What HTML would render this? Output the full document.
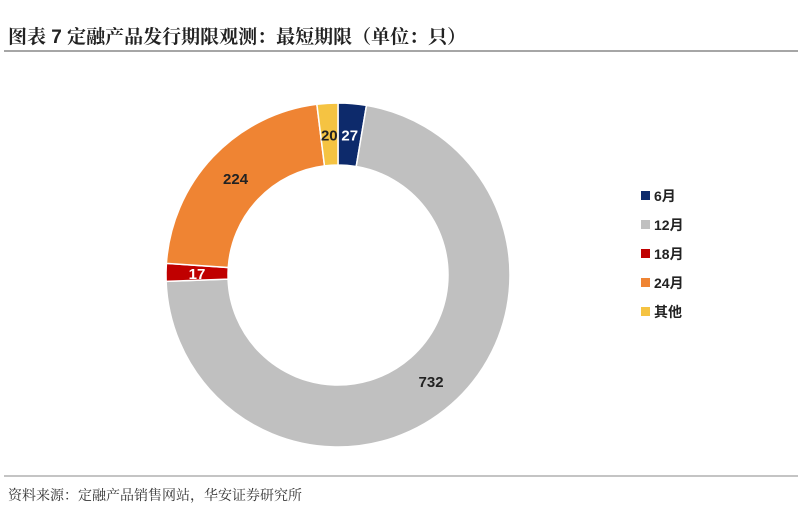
<!DOCTYPE html>
<html><head><meta charset="utf-8">
<style>
body{margin:0;background:#fff;width:802px;height:526px;overflow:hidden;font-family:"Liberation Sans","Noto Sans CJK SC",sans-serif;}
</style></head>
<body>
<svg width="802" height="526" viewBox="0 0 802 526">
<text x="8" y="43" font-size="19" font-weight="bold" fill="#222" font-family="'Liberation Sans','Noto Serif CJK SC',serif">图表 7  定融产品发行期限观测：最短期限（单位：只）</text>
<line x1="4" y1="51" x2="798" y2="51" stroke="#888" stroke-width="1.5"/>
<g id="donut"></g>
<g id="legend"></g>
<line x1="4" y1="476" x2="798" y2="476" stroke="#888" stroke-width="1"/>
<text x="8" y="500" font-size="14" fill="#333" font-family="'Liberation Serif','Noto Serif CJK SC',serif">资料来源：定融产品销售网站，华安证券研究所</text>
</svg>
<script>
const categories=["6月","12月","18月","24月","其他"];
const values=[27,732,17,224,20];
const colors=["#0d2a6b","#c0c0c0","#c00000","#ef8433","#f5c342"];
const labelColors=["#fff","#222","#fff","#222","#222"];
const ns="http://www.w3.org/2000/svg";
const cx=338,cy=275,R=172,r=110;
const total=values.reduce((a,b)=>a+b,0);
function pt(a,rad){return [cx+rad*Math.sin(a),cy-rad*Math.cos(a)];}
const donut=document.getElementById('donut');
let acc=0;
values.forEach((v,i)=>{
  const a0=acc/total*2*Math.PI; acc+=v; const a1=acc/total*2*Math.PI;
  const large=(a1-a0)>Math.PI?1:0;
  const p0=pt(a0,R),p1=pt(a1,R),q1=pt(a1,r),q0=pt(a0,r);
  const p=document.createElementNS(ns,'path');
  p.setAttribute('d',`M${p0[0]},${p0[1]} A${R},${R} 0 ${large} 1 ${p1[0]},${p1[1]} L${q1[0]},${q1[1]} A${r},${r} 0 ${large} 0 ${q0[0]},${q0[1]} Z`);
  p.setAttribute('fill',colors[i]);p.setAttribute('stroke','#fff');p.setAttribute('stroke-width','1.5');
  
  
  donut.appendChild(p);
  const am=(a0+a1)/2; const lp=pt(am,(R+r)/2);
  const t=document.createElementNS(ns,'text');
  t.setAttribute('x',lp[0]);t.setAttribute('y',lp[1]+6);t.setAttribute('text-anchor','middle');
  t.setAttribute('font-size','15');t.setAttribute('font-weight','bold');t.setAttribute('fill',labelColors[i]);
  t.textContent=values[i];
  
  
  donut.appendChild(t);
});
const lg=document.getElementById('legend');
categories.forEach((c,i)=>{
  const y=196+i*29;
  const s=document.createElementNS(ns,'rect');
  s.setAttribute('x',641);s.setAttribute('y',y-5);s.setAttribute('width',9);s.setAttribute('height',9);s.setAttribute('fill',colors[i]);
  
  
  lg.appendChild(s);
  const t=document.createElementNS(ns,'text');
  t.setAttribute('x',654);t.setAttribute('y',y+5);t.setAttribute('font-size','14');t.setAttribute('font-weight','bold');t.setAttribute('fill','#222');
  t.textContent=c;
  
  
  lg.appendChild(t);
});
</script>
</body></html>
